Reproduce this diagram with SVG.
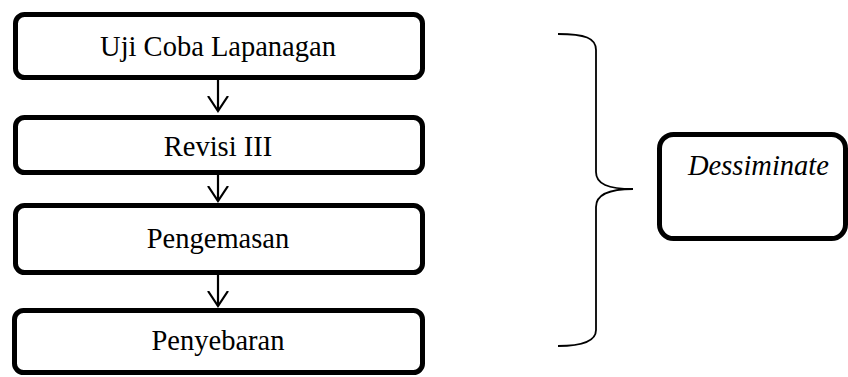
<svg xmlns="http://www.w3.org/2000/svg" width="848" height="377" viewBox="0 0 848 377">
<defs>
<style>
.box{fill:#fff;stroke:#000;stroke-width:5}
.lbl{font-family:"Liberation Serif","Times New Roman",serif;font-size:28.5px;fill:#000;text-anchor:middle}
.conn{fill:none;stroke:#000;stroke-width:2.2}
.brace{fill:none;stroke:#000;stroke-width:1.8}
</style>
<marker id="ah" markerWidth="30" markerHeight="30" viewBox="-15 -15 30 30" refX="0" refY="0" orient="auto" markerUnits="userSpaceOnUse">
<path d="M-15,-10 L0,0 L-15,10" fill="none" stroke="#000" stroke-width="2.2"/>
</marker>
</defs>
<rect width="848" height="377" fill="#fff"/>
<g id="n1"><rect class="box" x="15.5" y="14.5" width="407" height="63" rx="9"/><text class="lbl" x="218" y="56">Uji Coba Lapanagan</text></g>
<g id="n2"><rect class="box" x="15.5" y="117.5" width="407" height="55" rx="9"/><text class="lbl" x="218" y="156">Revisi III</text></g>
<g id="n3"><rect class="box" x="15.5" y="205.5" width="407" height="67" rx="9"/><text class="lbl" x="218" y="248">Pengemasan</text></g>
<g id="n4"><rect class="box" x="14.5" y="310.5" width="408" height="62" rx="9"/><text class="lbl" x="218" y="350">Penyebaran</text></g>
<g id="n5"><rect class="box" x="659.5" y="134.5" width="186" height="104" rx="14"/><text class="lbl" x="688" y="175" style="text-anchor:start;font-style:italic">Dessiminate</text></g>
<g id="connectors">
<line class="conn" x1="218" y1="80" x2="218" y2="111" marker-end="url(#ah)"/>
<line class="conn" x1="218" y1="175" x2="218" y2="201" marker-end="url(#ah)"/>
<line class="conn" x1="218" y1="275" x2="218" y2="306" marker-end="url(#ah)"/>
<path class="brace" d="M558,34 C585,34 596,38 596,50 L596,172 C596,184 608,189 633,189 C608,189 596,195 596,207 L596,330 C596,340 585,346 558,346"/>
</g>
</svg>
